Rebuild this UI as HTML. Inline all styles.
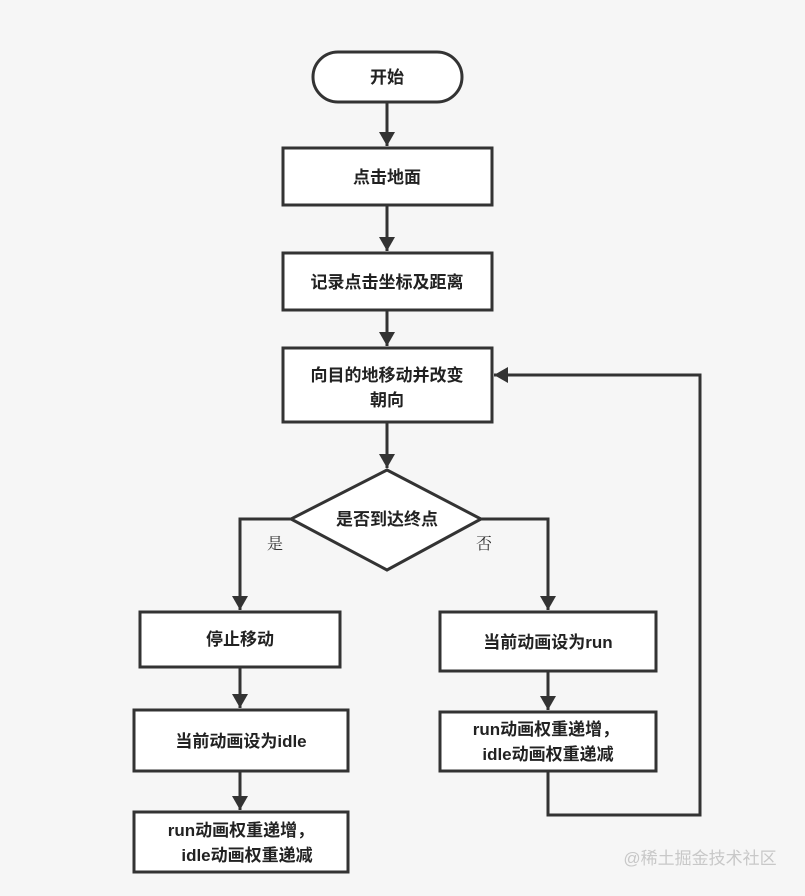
<!DOCTYPE html>
<html><head><meta charset="utf-8"><style>
html,body{margin:0;padding:0;background:#f6f6f6;}
svg text{font-family:"Liberation Sans","Noto Sans CJK SC",sans-serif;}
</style></head><body>
<svg width="805" height="891" viewBox="0 0 805 891" xmlns="http://www.w3.org/2000/svg">
<defs><marker id="a" markerWidth="10" markerHeight="10" refX="9" refY="5" orient="auto" markerUnits="userSpaceOnUse" viewBox="0 0 10 10"><path d="M0,0 L10,5 L0,10 z" fill="#333"/></marker>
<marker id="b" markerWidth="14" markerHeight="16" refX="14" refY="8" orient="auto" markerUnits="userSpaceOnUse"><path d="M0,0 L14,8 L0,16 z" fill="#333"/></marker></defs>
<rect width="805" height="891" fill="#f6f6f6"/>
<g fill="#fff" stroke="#333" stroke-width="3">
<rect x="313" y="52" width="149" height="50" rx="25"/>
<rect x="283" y="148" width="209" height="57"/>
<rect x="283" y="253" width="209" height="57"/>
<rect x="283" y="348" width="209" height="74"/>
<polygon points="387,470 481,519 387,570 291,519"/>
<rect x="140" y="612" width="200" height="55"/>
<rect x="134" y="710" width="214" height="61"/>
<rect x="134" y="812" width="214" height="60"/>
<rect x="440" y="612" width="216" height="59"/>
<rect x="440" y="712" width="216" height="59"/>
</g>
<g fill="none" stroke="#333" stroke-width="3">
<line x1="387" y1="102" x2="387" y2="146" marker-end="url(#b)"/>
<line x1="387" y1="205" x2="387" y2="251" marker-end="url(#b)"/>
<line x1="387" y1="310" x2="387" y2="346" marker-end="url(#b)"/>
<line x1="387" y1="422" x2="387" y2="468" marker-end="url(#b)"/>
<polyline points="291,519 240,519 240,610" marker-end="url(#b)"/>
<polyline points="481,519 548,519 548,610" marker-end="url(#b)"/>
<line x1="240" y1="667" x2="240" y2="708" marker-end="url(#b)"/>
<line x1="240" y1="771" x2="240" y2="810" marker-end="url(#b)"/>
<line x1="548" y1="671" x2="548" y2="710" marker-end="url(#b)"/>
<polyline points="548,771 548,815 700,815 700,375 494,375" marker-end="url(#b)"/>
</g>
<g font-size="17" fill="#222" text-anchor="middle" font-weight="bold">
<text x="387" y="83">开始</text>
<text x="387" y="183">点击地面</text>
<text x="387" y="288">记录点击坐标及距离</text>
<text x="387" y="381">向目的地移动并改变</text>
<text x="387" y="406">朝向</text>
<text x="387" y="525">是否到达终点</text>
<text x="240" y="645">停止移动</text>
<text x="241" y="747">当前动画设为idle</text>
<text x="241" y="836">run动画权重递增，</text>
<text x="247" y="861">idle动画权重递减</text>
<text x="548" y="648">当前动画设为run</text>
<text x="546" y="735">run动画权重递增，</text>
<text x="548" y="760">idle动画权重递减</text>
</g>
<g font-size="16" fill="#333" text-anchor="middle" font-family="Liberation Serif,Noto Serif CJK SC,serif">
<text x="275" y="549" style="font-family:'Noto Serif CJK SC',serif">是</text>
<text x="484" y="549" style="font-family:'Noto Serif CJK SC',serif">否</text>
</g>
<text x="700" y="864" font-size="17" fill="#c8c8c8" text-anchor="middle">@稀土掘金技术社区</text>
</svg>
</body></html>
